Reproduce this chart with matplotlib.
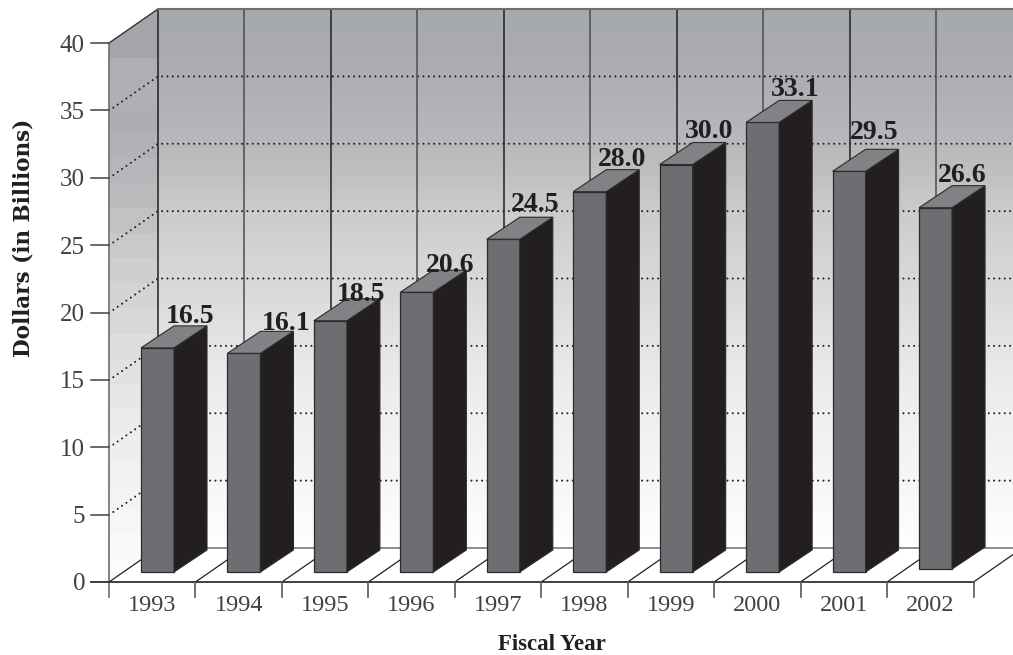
import numpy as np
import matplotlib
matplotlib.use("Agg")
import matplotlib.pyplot as plt
from matplotlib.patches import Polygon

years = ["1993", "1994", "1995", "1996", "1997", "1998", "1999", "2000", "2001", "2002"]
spending = [16.5, 16.1, 18.5, 20.6, 24.5, 28.0, 30.0, 33.1, 29.5, 26.6]
y_ticks = [0, 5, 10, 15, 20, 25, 30, 35, 40]

# Chart geometry, in pixels of the 1013x655 canvas
W, H = 1013, 655
X0, Y0 = 109, 582          # front-left floor corner
SLOT = 86.45               # pixels per category
UNIT = 13.475              # pixels per dollar unit
DEPTH_X, DEPTH_Y = 49, 34  # wall offset from the front plane
BAR_X, BAR_W = 32, 33
BAR_DX, BAR_DY = 33, 22
BAR_LIFT = [10, 10, 10, 10, 10, 10, 10, 10, 10, 13]
BAR_GAIN = 1.008
LABEL_DX = [49, 58.5, 47, 49.5, 48, 48.5, 49, 49.5, 42, 43.5]
LABEL_DY = [3, 1, -2, -2, 6, 4, 5, 4, 10, 4]

dx_wall, dy_wall = DEPTH_X / SLOT, DEPTH_Y / UNIT
dx_bar, dy_bar = BAR_DX / SLOT, BAR_DY / UNIT

fig = plt.figure(figsize=(W / 100, H / 100), dpi=100, facecolor="white")
ax = fig.add_axes([0, 0, 1, 1])
ax.axis("off")

plt.rcParams["font.family"] = ["Liberation Serif", "DejaVu Serif"]
n = len(years)
x_right = (W - X0) / SLOT


def row_to_y(px):
    return (Y0 - px) / UNIT


# Wall shading: a banded ramp from cool grey at the top to white at the floor
stops_px = [9, 40, 80, 142, 143, 175, 210, 250, 300, 350, 400, 450, 500, 548]
stops_rgb = [
    (0xa5, 0xaa, 0xac), (0xa9, 0xaa, 0xad), (0xae, 0xae, 0xb2), (0xb8, 0xb7, 0xbe),
    (0xb8, 0xb8, 0xb8), (0xc0, 0xc0, 0xc0), (0xcb, 0xcb, 0xcb), (0xd3, 0xd3, 0xd3),
    (0xdc, 0xdc, 0xdc), (0xe6, 0xe6, 0xe6), (0xee, 0xee, 0xee), (0xf3, 0xf3, 0xf3),
    (0xf9, 0xf9, 0xf9), (0xff, 0xff, 0xff),
]


def ramp(rows):
    return np.stack([np.interp(rows, stops_px, [c[k] for c in stops_rgb]) for k in range(3)], axis=1) / 255


rows = np.arange(9, 548, 7) + 3.5
ax.imshow(ramp(rows)[:, None, :], extent=(dx_wall, x_right, row_to_y(548), row_to_y(9)),
          aspect="auto", interpolation="nearest", zorder=1)

# Side wall: the same ramp in coarser bands, trimmed to a parallelogram
side_rows = np.arange(9, 584, 25) + 12.5
side = ramp(side_rows - 40)
side[:4] = np.array([(0xa5, 0xa4, 0xa8), (0xa5, 0xa4, 0xa8), (0xaf, 0xae, 0xb2), (0xb0, 0xaf, 0xb3)]) / 255
side_im = ax.imshow(side[:, None, :], extent=(0, dx_wall, row_to_y(584), row_to_y(9)),
                    aspect="auto", interpolation="nearest", zorder=1)
side_clip = Polygon([(0, 0), (0, 40), (dx_wall, 40 + dy_wall), (dx_wall, dy_wall)],
                    transform=ax.transData, closed=True, fill=False, edgecolor="none")
ax.add_patch(side_clip)
side_im.set_clip_path(side_clip)

ax.set_xlim(-X0 / SLOT, x_right)
ax.set_ylim((Y0 - H) / UNIT, Y0 / UNIT)

# Dotted gridlines along the side and back walls
for v in y_ticks[1:-1]:
    ax.plot([0.05, dx_wall, x_right], [v + 0.2, v + dy_wall, v + dy_wall],
            color="#231f20", lw=1.5, ls=(0, (0.01, 2.55)), dash_capstyle="round", zorder=2)

# Back-wall verticals and floor diagonals
for i in range(n + 1):
    ax.plot([i + dx_wall] * 2, [dy_wall, 40 + dy_wall], color="#231f20" if i % 2 == 0 else "#4d4d4f",
            lw=1.1, zorder=2)
    ax.plot([i, i + dx_wall], [0, dy_wall], color="#231f20", lw=0.9, zorder=2)

# Wall and floor outlines
ax.plot([0, dx_wall], [40, 40 + dy_wall], color="#333333", lw=1.0, zorder=3)
ax.plot([dx_wall, x_right], [40 + dy_wall] * 2, color="#6d6e71", lw=1.5, zorder=3)
ax.plot([dx_wall, x_right], [dy_wall] * 2, color="#77787b", lw=1.2, zorder=3)
ax.plot([0, 0], [-15 / UNIT, 40], color="#6d6e71", lw=1.2, zorder=3)
ax.plot([-18 / SLOT, n], [0, 0], color="#231f20", lw=1.2, zorder=3)

# Axis ticks and labels
for v in y_ticks:
    ax.plot([-18 / SLOT, 0], [v, v], color="#414042", lw=1.1, zorder=3)
    ax.text(-24 / SLOT, v, str(v), ha="right", va="center_baseline", fontsize=18, color="#414042", zorder=5)
for i, year in enumerate(years):
    ax.plot([i + 1, i + 1], [-15 / UNIT, 0], color="#58585a", lw=1.2, zorder=3)
    ax.text(i + 0.5, -29 / UNIT, year, ha="center", va="baseline", fontsize=17.5, color="#414042", zorder=5)

# Oblique bars
for i, v in enumerate(spending):
    left = i + BAR_X / SLOT
    w = BAR_W / SLOT
    lift = BAR_LIFT[i] / UNIT
    top = lift + v * BAR_GAIN
    ax.bar(left, top - lift, width=w, bottom=lift, align="edge",
           color="#6d6e71", edgecolor="#2b2b2b", lw=0.9, zorder=6)
    ax.add_patch(Polygon([(left + w, lift), (left + w + dx_bar, lift + dy_bar),
                          (left + w + dx_bar, top + dy_bar), (left + w, top)],
                         facecolor="#231f20", edgecolor="#2b2b2b", lw=0.8, zorder=6))
    ax.add_patch(Polygon([(left, top), (left + w, top), (left + w + dx_bar, top + dy_bar),
                          (left + dx_bar, top + dy_bar)],
                         facecolor="#808285", edgecolor="#2b2b2b", lw=0.8, zorder=6))
    ax.text(left + LABEL_DX[i] / SLOT, top + dy_bar + LABEL_DY[i] / UNIT, f"{v:.1f}",
            ha="center", va="baseline", fontsize=20, fontweight="bold", color="#231f20", zorder=7)

ax.text((552 - X0) / SLOT, row_to_y(650), "Fiscal Year", ha="center", va="baseline",
        fontsize=16.5, fontweight="bold", color="#231f20")
ax.text((24 - X0) / SLOT, row_to_y(238), "Dollars (in Billions)", ha="center", va="center",
        rotation=90, fontsize=15.5, fontweight="bold", family="DejaVu Serif", color="#231f20")

fig.savefig("out.png", dpi=100)
